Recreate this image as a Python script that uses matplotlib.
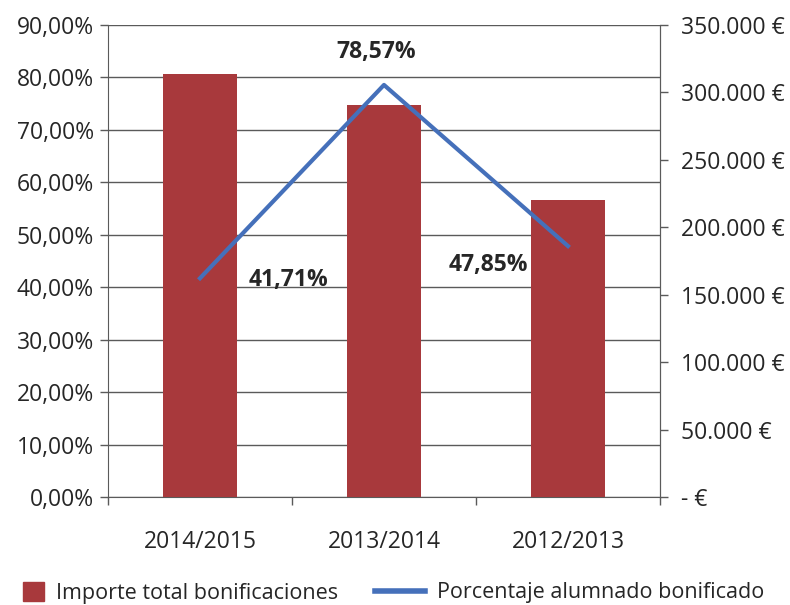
import matplotlib
matplotlib.use("Agg")
import matplotlib.pyplot as plt
from matplotlib.patches import Patch
from matplotlib.lines import Line2D
from matplotlib.ticker import FuncFormatter, MultipleLocator, FixedLocator

# -----------------------------------------------------------------------
# Data
# -----------------------------------------------------------------------
courses = ["2014/2015", "2013/2014", "2012/2013"]
importe = [313500, 290500, 220000]           # € (right axis)
porcentaje = [0.4171, 0.7857, 0.4785]        # share (left axis)
pct_labels = ["41,71%", "78,57%", "47,85%"]

BAR_COLOR = "#A8393C"
LINE_COLOR = "#4570BA"
TEXT_COLOR = "#262626"
GRID_COLOR = "#5a5a5a"
FS = 16.5
LEG_FS = 15.5

plt.rcParams["font.family"] = ["Open Sans", "DejaVu Sans"]
plt.rcParams["font.size"] = FS
plt.rcParams["text.color"] = TEXT_COLOR
plt.rcParams["xtick.color"] = GRID_COLOR
plt.rcParams["ytick.color"] = GRID_COLOR
plt.rcParams["xtick.labelcolor"] = TEXT_COLOR
plt.rcParams["ytick.labelcolor"] = TEXT_COLOR

fig = plt.figure(figsize=(7.9, 6.05), dpi=100)
ax = fig.add_axes([0.1367, 0.1785, 0.6987, 0.7802])
x = list(range(len(courses)))

# left axis: percentages + gridlines
ax.set_xlim(-0.5, 2.5)
ax.set_ylim(0, 0.9)
ax.yaxis.set_major_locator(MultipleLocator(0.1))
ax.yaxis.set_major_formatter(FuncFormatter(lambda v, p: f"{v*100:.2f}%".replace(".", ",")))
ax.grid(axis="y", color=GRID_COLOR, lw=1)
ax.set_axisbelow(True)
ax.tick_params(axis="y", length=6, width=1, pad=4)

ax.set_xticks(x)
ax.set_xticklabels(courses)
ax.tick_params(axis="x", which="major", length=0, pad=24)
ax.xaxis.set_minor_locator(FixedLocator([-0.5, 0.5, 1.5, 2.5]))
ax.tick_params(axis="x", which="minor", length=6, width=1)

ax.spines["top"].set_visible(False)
for s in ["left", "right", "bottom"]:
    ax.spines[s].set_color(GRID_COLOR)

# right axis: bars in euros
ax2 = ax.twinx()
ax2.bar(x, importe, width=0.4, color=BAR_COLOR, zorder=2)
ax2.set_ylim(0, 350000)
ax2.yaxis.set_major_locator(MultipleLocator(50000))
ax2.yaxis.set_major_formatter(FuncFormatter(
    lambda v, p: "- €" if v == 0 else f"{int(v):,} €".replace(",", ".")))
ax2.tick_params(axis="y", length=6, width=1, pad=9)
for s in ["top", "left", "bottom"]:
    ax2.spines[s].set_visible(False)
ax2.spines["right"].set_color(GRID_COLOR)

# third layer: line on the percentage scale, drawn above the bars
ax3 = ax.twinx()
ax3.set_ylim(ax.get_ylim())
ax3.axis("off")
ax3.plot(x, porcentaje, color=LINE_COLOR, lw=3)
offsets = [(0.48, -0.004), (-0.04, 0.062), (-0.43, -0.036)]
for xi, yi, lab, (dx, dy) in zip(x, porcentaje, pct_labels, offsets):
    ax3.text(xi + dx, yi + dy, lab, ha="center", va="center",
             fontsize=FS, fontweight="bold", color=TEXT_COLOR)

# legend, two parts so the square and the line get their own widths
fig.legend([Patch(color=BAR_COLOR)], ["Importe total bonificaciones"],
           loc="center left", bbox_to_anchor=(0.029, 0.02), frameon=False,
           borderpad=0, borderaxespad=0,
           fontsize=LEG_FS, handlelength=1.0, handleheight=1.0, handletextpad=0.55)
fig.legend([Line2D([0], [0], color=LINE_COLOR, lw=4)], ["Porcentaje alumnado bonificado"],
           loc="center left", bbox_to_anchor=(0.475, 0.02), frameon=False,
           borderpad=0, borderaxespad=0,
           fontsize=LEG_FS, handlelength=2.3, handletextpad=0.55)

fig.savefig("out.png", dpi=100)
